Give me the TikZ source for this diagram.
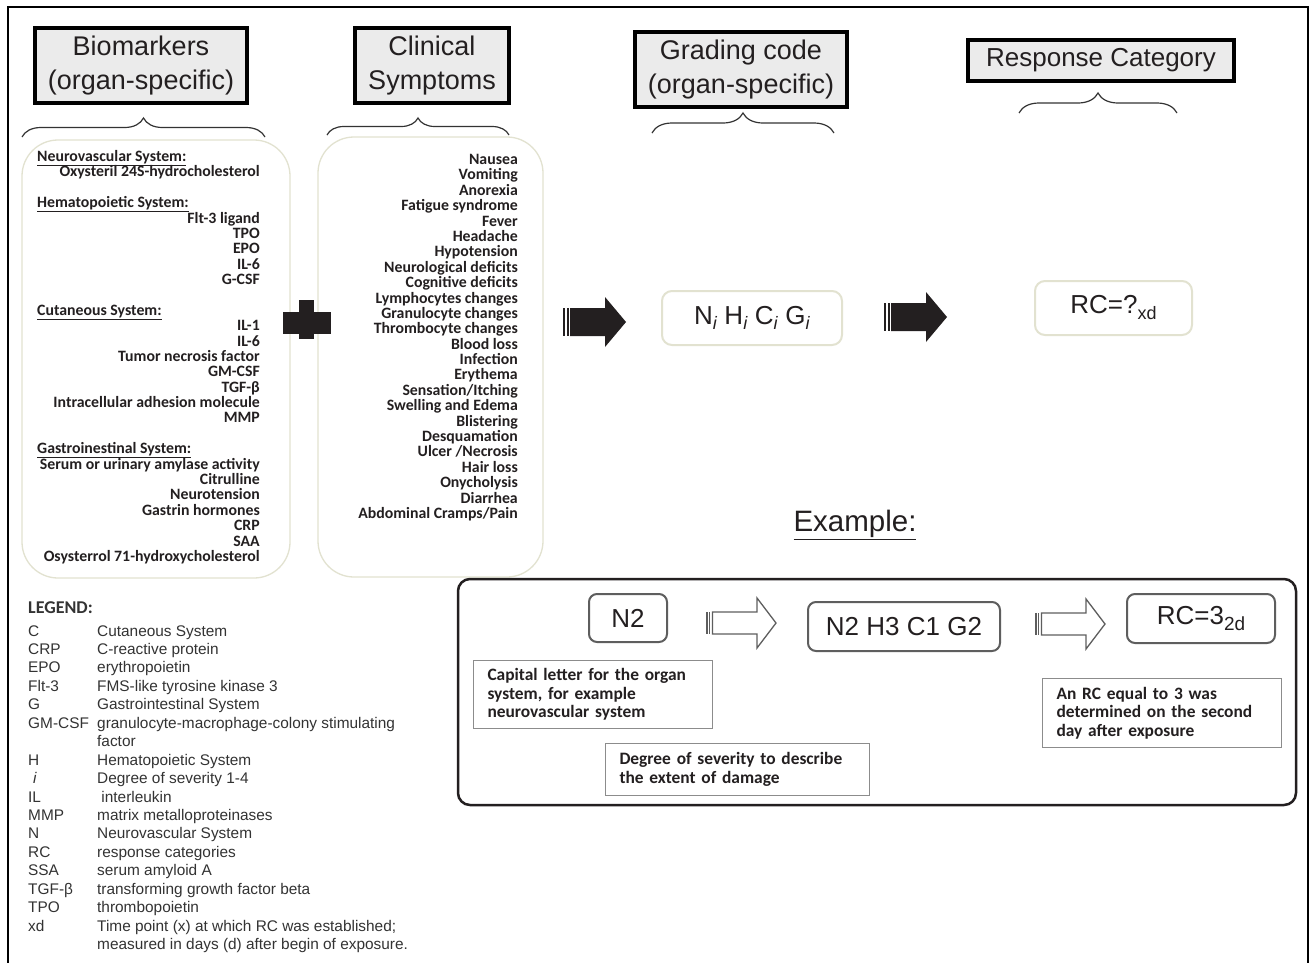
\documentclass[tikz,border=0pt]{standalone}
\usepackage{fontspec}
\setmainfont{Liberation Sans}
\newfontfamily\carl{Carlito}
\usetikzlibrary{decorations.pathreplacing}
\definecolor{ink}{HTML}{231F20}
\definecolor{hdrfill}{HTML}{EBEBEB}
\definecolor{beige}{HTML}{E2E2D0}
\definecolor{exgray}{HTML}{5E5E5E}
\definecolor{notegray}{HTML}{8C8C8C}
\definecolor{leg}{HTML}{333333}
\newcommand\gsub{\raisebox{-5pt}{\fontsize{18}{18}\selectfont\textit{i}}}
\begin{document}
\begin{tikzpicture}[x=1pt,y=-1pt,
  hdr/.style={draw=black, line width=3.8pt, fill=hdrfill, align=center, inner sep=0pt,
    font=\fontsize{27}{34}\selectfont, text=ink},
  brc/.style={decorate, decoration={brace, amplitude=#1}, draw=black!80, line width=1.2pt},
  listbox/.style={draw=beige, line width=1.3pt, rounded corners=36pt, inner sep=0pt},
  bmitem/.style={anchor=base east, inner sep=0pt, font=\carl\bfseries\fontsize{15.8}{15}\selectfont, text=ink},
  grp/.style={anchor=base west, inner sep=0pt, font=\carl\bfseries\fontsize{15.8}{15}\selectfont, text=ink},
  codebox/.style={draw=beige, line width=2pt, rounded corners=10pt, inner sep=0pt,
    font=\fontsize{26}{30}\selectfont, text=ink},
  exbox/.style={draw=exgray, line width=2pt, rounded corners=8pt, inner sep=0pt, fill=white,
    font=\fontsize{26}{30}\selectfont, text=ink},
  notebox/.style={draw=notegray, line width=1pt, inner xsep=14pt, inner ysep=0pt, align=left,
    anchor=north west, font=\carl\bfseries\fontsize{17.4}{18.5}\selectfont, text=ink},
  legab/.style={anchor=base west, inner sep=0pt, font=\fontsize{15.4}{15}\selectfont, text=leg},
  bigarrow/.pic={
    \fill[ink] (0,-14) rectangle (2,14);
    \fill[ink] (3.5,-14) rectangle (5.5,14);
    \fill[ink] (7,-14) -- (42,-14) -- (42,-25) -- (63,0) -- (42,25) -- (42,14) -- (7,14) -- cycle;
  },
  hollowarrow/.pic={
    \draw[exgray, line width=1.3pt] (0,-11) -- (0,11);
    \draw[exgray, line width=1.3pt] (2.7,-11) -- (2.7,11);
    \draw[exgray, line width=1.3pt, fill=white, line join=miter]
      (5.4,-11) -- (50,-11) -- (50,-25) -- (69,0) -- (50,25) -- (50,11) -- (5.4,11) -- cycle;
  }
]
\useasboundingbox (0,0) rectangle (1315,962);
\fill[white] (0,0) rectangle (1315,962);
% outer frame (open at the bottom)
\draw[black, line width=2.5pt] (8,980) -- (8,7) -- (1308,7) -- (1308,980);

% header boxes
\node[hdr, minimum width=212.5pt, minimum height=75.5pt] (bio) at (141,65.5) {Biomarkers\\(organ-specific)};
\node[hdr, minimum width=154.5pt, minimum height=75.5pt] (clin) at (432,65.5) {Clinical\\Symptoms};
\node[hdr, minimum width=212.5pt, minimum height=75.5pt] (grad) at (741,69.5) {Grading code\\(organ-specific)};
\node[hdr, minimum width=266.5pt, minimum height=41.5pt, font=\fontsize{26}{30}\selectfont] (resp) at (1101,60.5) {Response Category};

% braces
\draw[brc=19pt] (22,137) -- (265,137);
\draw[brc=17pt] (327,135) -- (509,135);
\draw[brc=20pt] (652,133) -- (834,133);
\draw[brc=20pt] (1019,113) -- (1177,113);

% list boxes
\node[listbox, minimum width=268pt, minimum height=438pt] (bmbox) at (156,359) {};
\node[listbox, minimum width=225pt, minimum height=440pt] (symbox) at (430.5,357) {};

% biomarker list
\foreach \n/\t in {1/Neurovascular System:,4/Hematopoietic System:,11/Cutaneous System:,20/Gastroinestinal System:}
  \node[grp] (bg\n) at (37,{161.5+(\n-1)*15.38}) {\underline{\t}};
\foreach \n/\t in {2/Oxysteril 24S-hydrocholesterol,5/Flt-3 ligand,6/TPO,7/EPO,8/IL-6,9/G-CSF,
  12/IL-1,13/IL-6,14/Tumor necrosis factor,15/GM-CSF,16/TGF-β,17/Intracellular adhesion molecule,18/MMP,
  21/Serum or urinary amylase activity,22/Citrulline,23/Neurotension,24/Gastrin hormones,25/CRP,26/SAA,
  27/Osysterrol 71-hydroxycholesterol}
  \node[bmitem] (bm\n) at (260,{161.5+(\n-1)*15.38}) {\t};

% symptoms list
\foreach \t [count=\i] in {Nausea,Vomiting,Anorexia,Fatigue syndrome,Fever,Headache,Hypotension,
  Neurological deficits,Cognitive deficits,Lymphocytes changes,Granulocyte changes,Thrombocyte changes,
  Blood loss,Infection,Erythema,{Sensation/Itching},Swelling and Edema,Blistering,Desquamation,
  {Ulcer /Necrosis},Hair loss,Onycholysis,Diarrhea,{Abdominal Cramps/Pain}}
  \node[bmitem] (sy\i) at (518,{164.5+(\i-1)*15.39}) {\t};

% plus sign
\fill[ink] (283,312) rectangle (331,334);
\fill[ink] (299,300) rectangle (314,339);

% big arrows
\pic at (563,322) {bigarrow};
\pic at (884,317) {bigarrow};

% code boxes
\node[codebox, minimum width=180pt, minimum height=54pt] (code) at (752,318)
  {N\gsub\ H\gsub\ C\gsub\ G\gsub};
\node[codebox, minimum width=157pt, minimum height=54pt] (rc) at (1113.5,308)
  {RC=?\raisebox{-6pt}{\fontsize{18}{18}\selectfont xd}};

% example
\node[font=\fontsize{29.5}{32}\selectfont, text=ink, inner sep=0pt] (exlab) at (855,525) {\underline{Example:}};
\node[draw=ink, line width=2.5pt, rounded corners=12pt, minimum width=838pt, minimum height=226pt] (exframe) at (877,692) {};

\node[exbox, minimum width=78pt, minimum height=48pt] (exn) at (628,618) {N2};
\node[exbox, minimum width=192pt, minimum height=49pt] (exg) at (904,626.5) {N2 H3 C1 G2};
\node[exbox, minimum width=148pt, minimum height=49pt] (exr) at (1201,618.5)
  {RC=3\raisebox{-6pt}{\fontsize{19}{19}\selectfont 2d}};
\pic at (707,623) {hollowarrow};
\pic at (1036,624) {hollowarrow};

\node[notebox, text width=211pt, minimum height=68pt] (n1) at (473,660)
  {Capital letter for the organ\\system, for example\\neurovascular system};
\node[notebox, text width=236pt, minimum height=52pt] (n2) at (605,743)
  {Degree of severity to describe\\the extent of damage};
\node[notebox, text width=211pt, minimum height=69pt] (n3) at (1042,678)
  {An RC equal to 3 was\\determined on the second\\day after exposure};

% legend
\node[anchor=base west, inner sep=0pt, font=\carl\bfseries\fontsize{18}{18}\selectfont, text=leg] (leghead) at (28,613) {LEGEND:};
\foreach \k/\ax/\ab/\de in {0/28/C/Cutaneous System,1/28/CRP/C-reactive protein,2/28/EPO/erythropoietin,
  3/28/Flt-3/FMS-like tyrosine kinase 3,4/28/G/Gastrointestinal System,
  5/28/GM-CSF/granulocyte-macrophage-colony stimulating,6/28//factor,7/28/H/Hematopoietic System,
  8/33/{\textit{i}}/Degree of severity 1-4,9/28/IL/\ interleukin,10/28/MMP/matrix metalloproteinases,
  11/28/N/Neurovascular System,12/28/RC/response categories,13/28/SSA/serum amyloid A,
  14/28/TGF-β/transforming growth factor beta,15/28/TPO/thrombopoietin,
  16/28/xd/Time point (x) at which RC was established;,17/28//measured in days (d) after begin of exposure.}
{
  \node[legab] (la\k) at (\ax,{636+\k*18.45}) {\ab};
  \node[legab] (ld\k) at (97,{636+\k*18.45}) {\de};
}
\end{tikzpicture}
\end{document}
